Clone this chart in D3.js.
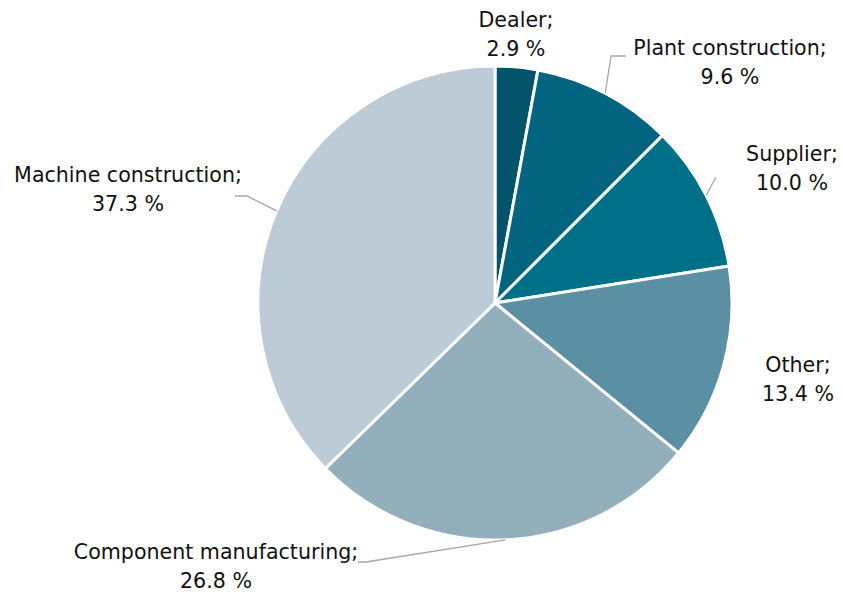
<!DOCTYPE html>
<html>
<head>
<meta charset="utf-8">
<script src="https://cdn.jsdelivr.net/npm/d3@7"></script>
<style>
  html, body { margin: 0; padding: 0; background: #fff; }
  svg { display: block; }
  text { font-family: "DejaVu Sans", "Open Sans", sans-serif; font-size: 20.6px; fill: #111; }
</style>
</head>
<body>
<svg id="chart" width="843" height="594"></svg>
<script>
// Share of respondents by sector (%)
const categories = ["Dealer", "Plant construction", "Supplier", "Other", "Component manufacturing", "Machine construction"];
const shares = [2.9, 9.6, 10.0, 13.4, 26.8, 37.3];
const colors = ["#03546a", "#02647e", "#007089", "#5b8fa3", "#94afbc", "#bccbd5"];

// Label placement: text anchor point and optional leader elbow
const labelLayout = [
  { x: 516, y: 27, elbow: null, leader: false },
  { x: 730, y: 55, elbow: [[611, 56], [626, 56]], leader: true },
  { x: 792, y: 161, elbow: [[716, 177]], leader: true },
  { x: 798, y: 372, elbow: null, leader: false },
  { x: 216, y: 559, elbow: [[366, 562], [358, 562]], leader: true },
  { x: 128, y: 182, elbow: [[247, 196], [235, 196]], leader: true }
];

const cx = 495, cy = 303, r = 237;
const svg = d3.select("#chart");
const g = svg.append("g").attr("transform", `translate(${cx},${cy})`);

const data = categories.map((c, i) => ({ name: c, value: shares[i], color: colors[i], layout: labelLayout[i] }));

const pie = d3.pie().value(d => d.value).sort(null);
const arc = d3.arc().innerRadius(0).outerRadius(r);
const arcs = pie(data);

g.selectAll("path.slice")
  .data(arcs)
  .join("path")
  .attr("class", "slice")
  .attr("d", arc)
  .attr("fill", d => d.data.color)
  .attr("stroke", "#fff")
  .attr("stroke-width", 3)
  .attr("stroke-linejoin", "round");

// Leader lines from slice edge to label
const edge = d3.arc().innerRadius(r).outerRadius(r);
arcs.filter(d => d.data.layout.leader).forEach(d => {
  const [px, py] = edge.centroid(d);
  const pts = [[px + cx, py + cy]].concat(d.data.layout.elbow);
  svg.append("path")
    .attr("d", d3.line()(pts))
    .attr("fill", "none")
    .attr("stroke", "#a6a6a6")
    .attr("stroke-width", 1.3);
});

// Two-line labels: name and value
arcs.forEach(d => {
  const L = d.data.layout;
  const t = svg.append("text").attr("text-anchor", "middle");
  t.append("tspan").attr("x", L.x).attr("y", L.y).text(d.data.name + ";");
  t.append("tspan").attr("x", L.x).attr("y", L.y + 28.5).text(d3.format(".1f")(d.data.value) + " %");
});
</script>
</body>
</html>
